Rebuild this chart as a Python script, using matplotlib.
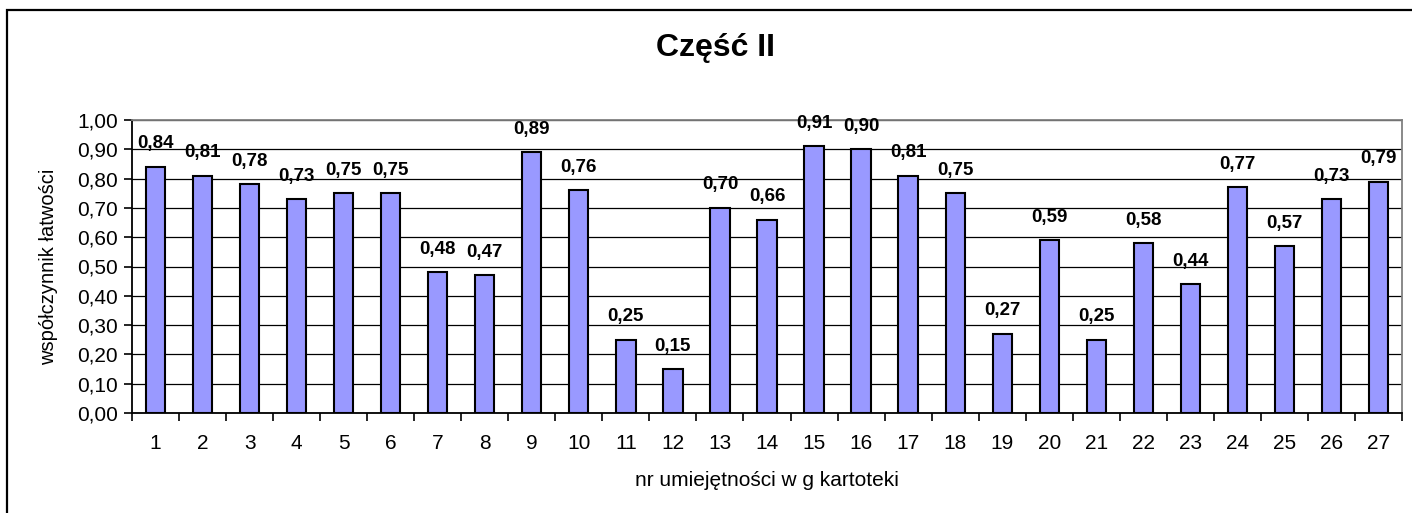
import matplotlib
matplotlib.use("Agg")
import matplotlib.pyplot as plt
from matplotlib.patches import Rectangle
from matplotlib.ticker import FuncFormatter, FixedLocator

# dane z wykresu
categories = [str(i) for i in range(1, 28)]
values = [0.84, 0.81, 0.78, 0.73, 0.75, 0.75, 0.48, 0.47, 0.89, 0.76,
          0.25, 0.15, 0.70, 0.66, 0.91, 0.90, 0.81, 0.75, 0.27, 0.59,
          0.25, 0.58, 0.44, 0.77, 0.57, 0.73, 0.79]
title = "Część II"
xlabel = "nr umiejętności w g kartoteki"
ylabel = "współczynnik łatwości"

plt.rcParams["font.family"] = ["Liberation Sans", "DejaVu Sans"]

W, H = 1412, 513
fig = plt.figure(figsize=(W / 100, H / 100), dpi=100)
ax = fig.add_axes([132 / W, 1 - 413 / H, (1402 - 132) / W, (413 - 120) / H])

x = list(range(len(values)))
ax.bar(x, values, width=0.41, color="#9999FF", edgecolor="black",
       linewidth=1.5, zorder=3)

for xi, v in zip(x, values):
    ax.annotate(f"{v:.2f}".replace(".", ","), (xi, v), xytext=(0, 16.5),
                textcoords="offset points", ha="center", va="center",
                fontsize=13.5, fontweight="bold", zorder=4)

ax.set_xlim(-0.5, len(values) - 0.5)
ax.set_ylim(0, 1.0)
ax.set_yticks([i / 10 for i in range(11)])
ax.yaxis.set_major_formatter(FuncFormatter(lambda v, _: f"{v:.2f}".replace(".", ",")))
ax.grid(axis="y", color="black", linewidth=0.9, zorder=1)

# etykiety kategorii w środku, kreski na granicach
ax.set_xticks(x)
ax.set_xticklabels(categories)
ax.xaxis.set_minor_locator(FixedLocator([i - 0.5 for i in range(len(values) + 1)]))
ax.tick_params(axis="x", which="major", length=0, pad=15, labelsize=15)
ax.tick_params(axis="x", which="minor", length=6, width=1.2, direction="out")
ax.tick_params(axis="y", length=6, width=1.2, direction="out", labelsize=15, pad=4)

for s in ("left", "bottom"):
    ax.spines[s].set_color("black")
    ax.spines[s].set_linewidth(1.3)
for s in ("top", "right"):
    ax.spines[s].set_color("#808080")
    ax.spines[s].set_linewidth(1.3)

ax.set_xlabel(xlabel, fontsize=15, labelpad=13)
ax.set_ylabel(ylabel, fontsize=14.5, labelpad=14)
fig.text(715 / W, 1 - 48 / H, title, ha="center", va="center",
         fontsize=23, fontweight="bold")

# ramka obszaru wykresu
fig.patches.append(Rectangle((7 / W, -0.1), 1.2, 1.1 - 10 / H, transform=fig.transFigure,
                             fill=False, edgecolor="black", linewidth=1.6))

fig.savefig("out.png", dpi=100)
